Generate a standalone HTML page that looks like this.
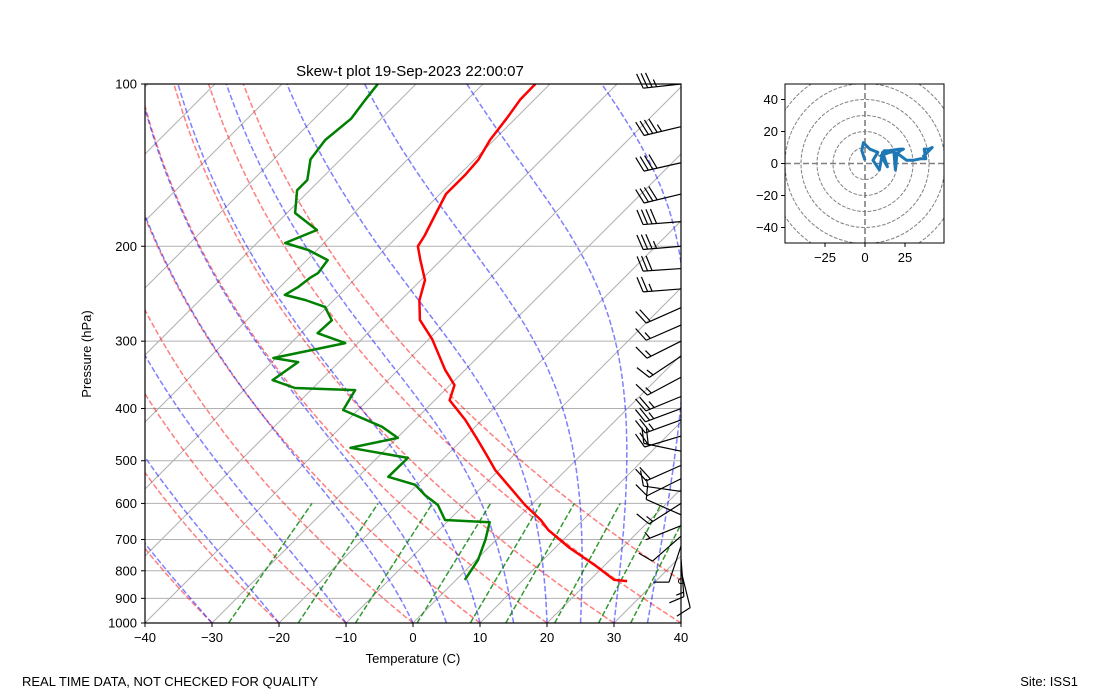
<!DOCTYPE html>
<html><head><meta charset="utf-8"><style>
body{margin:0;background:#fff;width:1100px;height:700px;overflow:hidden}
svg{display:block;font-family:"Liberation Sans","DejaVu Sans",sans-serif}
</style></head><body>
<svg id="svg" width="1100" height="700" viewBox="0 0 1100 700" xmlns="http://www.w3.org/2000/svg">
<defs>
<clipPath id="plotclip"><rect x="145" y="84" width="536" height="539"/></clipPath>
<clipPath id="hodoclip"><rect x="785" y="84" width="159" height="159"/></clipPath>
</defs>
<text x="410" y="76" text-anchor="middle" font-size="15">Skew-t plot 19-Sep-2023 22:00:07</text>
<g id="bg" clip-path="url(#plotclip)"></g>
<g id="profiles" clip-path="url(#plotclip)"></g>
<g id="barbs"></g>
<g id="axes"></g>
<text x="413" y="663" text-anchor="middle" font-size="13">Temperature (C)</text>
<text x="91" y="354" text-anchor="middle" font-size="13" transform="rotate(-90 91 354)">Pressure (hPa)</text>
<g id="hodo"></g>
<text x="22" y="686" font-size="13">REAL TIME DATA, NOT CHECKED FOR QUALITY</text>
<text x="1078" y="686" text-anchor="end" font-size="13">Site: ISS1</text>
</svg>
<script>
// ---- data ----
const tempP = [836,832,781,726,672,644,604,566,520,494,458,420,386,362,339,298,274,252,231,212,200,191,175,160,147,138,127,116,107,100];
const tempT = [25.7,23.6,18.5,12.2,6.3,3.7,-0.9,-5.1,-10.6,-13.4,-17.6,-22.5,-27.8,-29.3,-33,-39.4,-44.2,-47.2,-49.4,-53.1,-55.5,-56.1,-57.6,-59.1,-59.1,-59.4,-60.6,-61.3,-62.1,-62.2];
const dewP = [832,764,701,650,644,604,579,554,535.5,493.9,473.1,453.5,432.5,402.6,369.7,366.4,354.3,328,322.3,302.5,289.9,274.4,259.2,251.6,246.2,238.2,229.1,224.3,212.2,203.2,197.2,186.6,173.5,157.4,150.7,138,127,116,107,100];
const dewT = [1.3,0.3,-1.6,-3.6,-10.6,-13.9,-17.3,-20.3,-25.5,-25.4,-35.5,-29.9,-33.9,-42.2,-43.4,-52.7,-57.2,-56.1,-60.4,-51.9,-57.5,-57.3,-60.3,-64.3,-68.1,-67.3,-66.9,-66.4,-66.9,-71.3,-75.8,-73,-78.8,-81.9,-81.9,-84.5,-85.2,-84.5,-85.2,-85.7];
const windP = [836,800,760,720,690,660,630,600,570,540,510,480,450,420,400,380,350,320,300,280,260,240,220,200,180,160,140,120,100];
const windU = [0,-2,-1,3,8,5,9,11,14,10,18,19,20,22,24,22,15,12,14,16,18,26,30,35,38,37,40,42,36];
const windV = [2,8,13,9,7,2,-4,7,-2,5,8,-4,6,8,9,9,8,8,7,7,8,2,2,3,3,9,9,10,4];
const pTicks = [100,200,300,400,500,600,700,800,900,1000];
const tTicks = [-40,-30,-20,-10,0,10,20,30,40];
const isotherms = [-120,-110,-100,-90,-80,-70,-60,-50,-40,-30,-20,-10,0,10,20,30,40];
const dryTheta = [-40,-30,-20,-10,0,10,20,30,40,50];
const moistT0 = [-40,-30,-20,-10,0,5,10,15,20,25,30,35,40];
const mixRatios = [0.0004,0.001,0.002,0.004,0.007,0.01,0.016,0.024,0.032];
const hodoTicksY = [40,20,0,-20,-40];
const hodoTicksX = [-25,0,25];

const NS="http://www.w3.org/2000/svg";
function yP(p){return 623-539*Math.log10(1000/p);}
function xT(T,p){return 145+(T+40)*6.7+(623-yP(p));}
function mk(tag,attrs,parent){const e=document.createElementNS(NS,tag);for(const k in attrs)e.setAttribute(k,attrs[k]);parent.appendChild(e);return e;}
function pathFrom(pts){return pts.map((q,i)=>(i?'L':'M')+q[0].toFixed(1)+','+q[1].toFixed(1)).join('');}
const bg=document.getElementById('bg'),prof=document.getElementById('profiles'),axes=document.getElementById('axes'),barbs=document.getElementById('barbs'),hodo=document.getElementById('hodo');

pTicks.forEach(p=>{const l=mk('line',{x1:145,x2:681,y1:yP(p),y2:yP(p),stroke:'#b0b0b0','stroke-width':1},bg);
});
isotherms.forEach(T=>{const l=mk('line',{x1:xT(T,1000),y1:yP(1000),x2:xT(T,100),y2:yP(100),stroke:'#b0b0b0','stroke-width':1},bg);
});
const levels=[];for(let p=1000;p>=100;p-=10)levels.push(p);
dryTheta.forEach(th=>{const pts=levels.map(p=>[xT((th+273.15)*Math.pow(p/1000,0.2857)-273.15,p),yP(p)]);
const e=mk('path',{d:pathFrom(pts),fill:'none',stroke:'rgba(255,0,0,0.5)','stroke-width':1.5,'stroke-dasharray':'5.5,2.4'},bg);
});
function es(Tc){return 6.112*Math.exp(17.67*Tc/(Tc+243.5));}
function dTdp(T,p){const Rd=287.04,Cp=1005.7,Lv=2.501e6,eps=0.622;const e=es(T-273.15);const rs=eps*e/(p-e);
return (Rd*T+Lv*rs)/(Cp+Lv*Lv*rs*eps/(Rd*T*T))/p;}
moistT0.forEach(t0=>{let T=t0+273.15,p=1000;const pts=[[xT(t0,p),yP(p)]];
while(p>100){const dp=-5;const k1=dTdp(T,p),k2=dTdp(T+k1*dp,p+dp);T+=0.5*(k1+k2)*dp;p+=dp;pts.push([xT(T-273.15,p),yP(p)]);}
const e=mk('path',{d:pathFrom(pts),fill:'none',stroke:'rgba(0,0,255,0.5)','stroke-width':1.5,'stroke-dasharray':'5.5,2.4'},bg);
});
mixRatios.forEach(w=>{const pts=[1000,600].map(p=>{const e=p*w/(0.622+w);const L=Math.log(e/6.112);const Td=243.5*L/(17.67-L);return [xT(Td,p),yP(p)];});
const e=mk('path',{d:pathFrom(pts),fill:'none',stroke:'rgba(0,128,0,0.8)','stroke-width':1.5,'stroke-dasharray':'5.5,2.4'},bg);
});
const tLine=mk('path',{d:pathFrom(tempP.map((p,i)=>[xT(tempT[i],p),yP(p)])),fill:'none',stroke:'#ff0000','stroke-width':2.5,'stroke-linejoin':'round'},prof);

const dLine=mk('path',{d:pathFrom(dewP.map((p,i)=>[xT(dewT[i],p),yP(p)])),fill:'none',stroke:'#008000','stroke-width':2.5,'stroke-linejoin':'round'},prof);

const fr=mk('rect',{x:145,y:84,width:536,height:539,fill:'none',stroke:'#000','stroke-width':1.2},axes);

pTicks.forEach(p=>{const y=yP(p);mk('line',{x1:141,x2:145,y1:y,y2:y,stroke:'#000'},axes);
const t=mk('text',{x:137,y:y+4.5,'text-anchor':'end','font-size':13},axes);t.textContent=p;
});
tTicks.forEach(T=>{const x=145+(T+40)*6.7;mk('line',{x1:x,x2:x,y1:623,y2:627,stroke:'#000'},axes);
const t=mk('text',{x:x,y:642,'text-anchor':'middle','font-size':13},axes);t.textContent=T<0?'\u2212'+(-T):T;
});
windP.forEach((p,i)=>{const u=windU[i],v=windV[i];const s=Math.hypot(u,v);const bx=681,by=yP(p);
const g=mk('g',{},barbs);
if(s<2.5){mk('circle',{cx:bx,cy:by,r:2.5,fill:'none',stroke:'#000'},g);return;}
const dx=-u/s,dy=v/s,L=38;const tx=bx+dx*L,ty=by+dy*L;
mk('line',{x1:bx,y1:by,x2:tx,y2:ty,stroke:'#000','stroke-width':1.2},g);
const fx=-dy,fy=dx;let kt=Math.round(s/5)*5;let pos=0;
while(kt>=10){const ax=tx-dx*pos,ay=ty-dy*pos;mk('line',{x1:ax,y1:ay,x2:ax+fx*15+dx*5,y2:ay+fy*15+dy*5,stroke:'#000','stroke-width':1.2},g);pos+=4.5;kt-=10;}
if(kt>=5){if(pos===0)pos=4.5;const ax=tx-dx*pos,ay=ty-dy*pos;mk('line',{x1:ax,y1:ay,x2:ax+fx*7.5+dx*2.5,y2:ay+fy*7.5+dy*2.5,stroke:'#000','stroke-width':1.2},g);}
});
const hx0=865,hy0=163.5,hs=1.6;
const hc=mk('g',{'clip-path':'url(#hodoclip)'},hodo);
for(let r=10;r<=70;r+=10){const c=mk('circle',{cx:hx0,cy:hy0,r:r*hs,fill:'none',stroke:'#808080','stroke-width':1,'stroke-dasharray':'3.7,1.6'},hc);
}
mk('line',{x1:785,x2:944,y1:hy0,y2:hy0,stroke:'#808080','stroke-width':1.6,'stroke-dasharray':'6,3'},hc);
mk('line',{x1:hx0,x2:hx0,y1:84,y2:243,stroke:'#808080','stroke-width':1.6,'stroke-dasharray':'6,3'},hc);
const hl=mk('path',{d:pathFrom(windU.map((u,i)=>[hx0+u*hs,hy0-windV[i]*hs])),fill:'none',stroke:'#1f77b4','stroke-width':3,'stroke-linejoin':'round'},hc);

const hf=mk('rect',{x:785,y:84,width:159,height:159,fill:'none',stroke:'#000','stroke-width':1},hodo);

hodoTicksY.forEach(v=>{const y=hy0-v*hs;mk('line',{x1:781,x2:785,y1:y,y2:y,stroke:'#000'},hodo);
const t=mk('text',{x:778,y:y+4.5,'text-anchor':'end','font-size':13},hodo);t.textContent=v<0?'\u2212'+(-v):v;
});
hodoTicksX.forEach(u=>{const x=hx0+u*hs;mk('line',{x1:x,x2:x,y1:243,y2:247,stroke:'#000'},hodo);
const t=mk('text',{x:x,y:262,'text-anchor':'middle','font-size':13},hodo);t.textContent=u<0?'\u2212'+(-u):u;
});
</script>
</body></html>
